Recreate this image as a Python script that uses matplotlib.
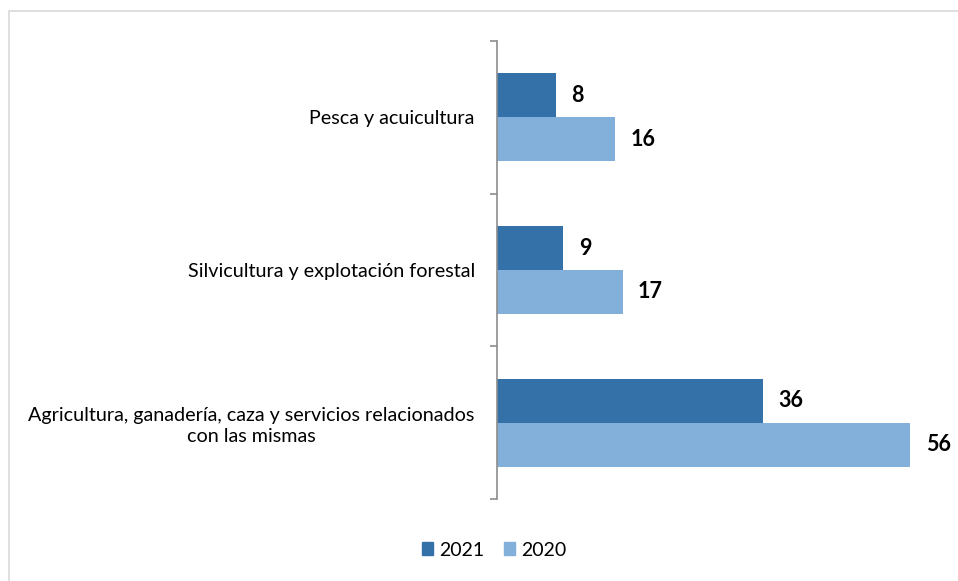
import matplotlib.pyplot as plt
from matplotlib.patches import Patch, Rectangle

# datos
categorias = ['Pesca y acuicultura',
              'Silvicultura y explotación forestal',
              'Agricultura, ganadería, caza y servicios relacionados\ncon las mismas']
valores_2021 = [8, 9, 36]
valores_2020 = [16, 17, 56]
series = ['2021', '2020']
colores = ['#3471a9', '#83b0da']

plt.rcParams['font.family'] = ['Lato', 'DejaVu Sans']

fig = plt.figure(figsize=(9.58, 5.81), dpi=100)
# marco gris claro alrededor del grafico
fig.patches.append(Rectangle((9 / 958, -0.1), 1.1, 1 - 11 / 581 + 0.1,
                             transform=fig.transFigure, fill=False,
                             edgecolor='#d9d9d9', linewidth=1.2))

ax = fig.add_axes([497 / 958, 1 - 499 / 581, 443 / 958, 458 / 581])

pos = list(range(len(categorias)))
h = 0.288
b1 = ax.barh([p - h / 2 for p in pos], valores_2021, height=h, color=colores[0])
b2 = ax.barh([p + h / 2 for p in pos], valores_2020, height=h, color=colores[1])
ax.bar_label(b1, padding=11, fontsize=15.5, fontweight='bold')
ax.bar_label(b2, padding=11, fontsize=15.5, fontweight='bold')

ax.set_xlim(0, 60)
ax.set_ylim(2.5, -0.5)

# eje vertical con marcas entre categorias
for s in ['top', 'right', 'bottom']:
    ax.spines[s].set_visible(False)
ax.spines['left'].set_color('#8c8c8c')
ax.spines['left'].set_linewidth(1.2)
ax.set_xticks([])
ax.set_yticks([-0.5, 0.5, 1.5, 2.5])
ax.set_yticklabels([])
ax.tick_params(axis='y', which='major', length=5, width=1.2, color='#8c8c8c')
ax.set_yticks(pos, minor=True)
ax.set_yticklabels(categorias, minor=True, fontsize=14.2, multialignment='center',
                   linespacing=1.3)
ax.tick_params(axis='y', which='minor', length=0, pad=16)

handles = [Patch(color=c) for c in colores]
fig.legend(handles, series, loc='center', bbox_to_anchor=(494 / 958, 1 - 550 / 581),
           ncol=2, frameon=False, fontsize=14, handlelength=0.6, handleheight=0.6,
           handletextpad=0.3, columnspacing=1.0)

plt.savefig('out.png', dpi=100)
plt.close()
